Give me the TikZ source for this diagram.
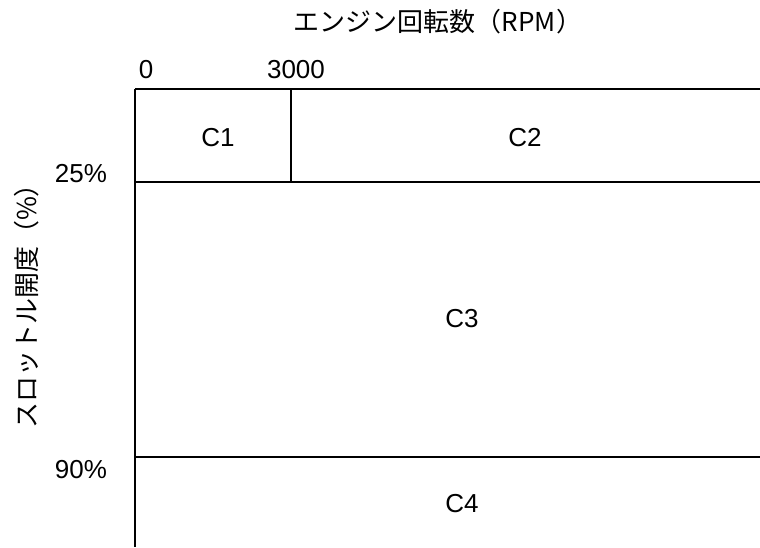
\documentclass[tikz,border=0pt]{standalone}
\usepackage{fontspec}
\setmainfont{Liberation Sans}
\newfontfamily\jpfont{Noto Sans CJK JP}
\begin{document}
\begin{tikzpicture}[x=1pt,y=-1pt,line width=1.5pt]
\tikzset{lbl/.style={inner sep=0pt, font=\fontsize{26}{30}\selectfont},
  jlbl/.style={lbl, font=\fontsize{26}{30}\selectfont\jpfont}}
\useasboundingbox (0,0) rectangle (760,547);
% frame corners
\coordinate (tl) at (135,89);
\coordinate (tr) at (760,89);
\coordinate (bl) at (135,547);
\coordinate (da) at (291,89);
\coordinate (db) at (291,182);
\coordinate (ml) at (135,182);
\coordinate (mr) at (760,182);
\coordinate (ll) at (135,457);
\coordinate (lr) at (760,457);
\draw[](tl) -- (tr);
\draw[](tl) -- (bl);
\draw[](da) -- (db);
\draw[](ml) -- (mr);
\draw[](ll) -- (lr);
% axis labels
\node[jlbl] (xtitle) at (438,22){エンジン回転数（RPM）};
\node[lbl] (x0) at (146,70){0};
\node[lbl] (x3000) at (296,70){3000};
\node[lbl] (y25) at (81,174){25\%};
\node[lbl] (y90) at (81,470){90\%};
\node[jlbl, rotate=90] (ytitle) at (27,300){スロットル開度（\%）};
% regions
\node[lbl] (c1) at (218,138){C1};
\node[lbl] (c2) at (525,138){C2};
\node[lbl] (c3) at (462,319){C3};
\node[lbl] (c4) at (462,504){C4};
\end{tikzpicture}
\end{document}
